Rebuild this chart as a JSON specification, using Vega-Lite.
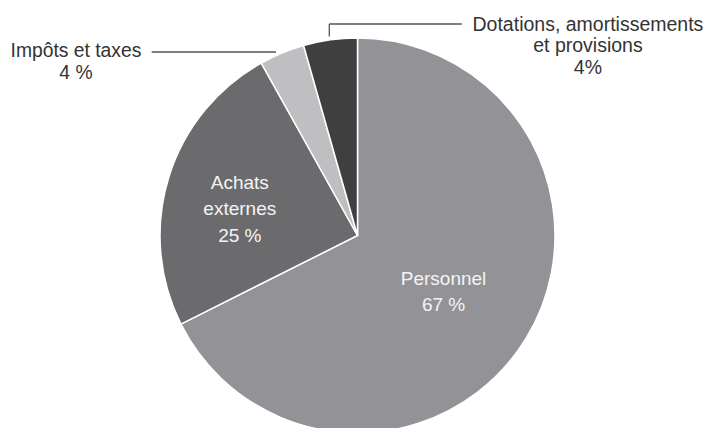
{
  "$schema": "https://vega.github.io/schema/vega-lite/v6.json",
  "width": 697,
  "height": 383,
  "autosize": "none",
  "padding": {"left": 9, "right": 0, "top": 44, "bottom": 1},
  "background": "white",
  "config": {"view": {"stroke": null}, "font": "Liberation Sans"},
  "datasets": {
    "parts": [
      {"poste": "Personnel", "part": 67.6, "ordre": 1, "etiquette": "Personnel\n67 %"},
      {"poste": "Achats externes", "part": 24.3, "ordre": 2, "etiquette": "Achats\nexternes\n25 %"},
      {"poste": "Impôts et taxes", "part": 3.7, "ordre": 3, "etiquette": "Impôts et taxes\n4 %"},
      {"poste": "Dotations, amortissements et provisions", "part": 4.4, "ordre": 4, "etiquette": "Dotations, amortissements\net provisions\n4%"}
    ],
    "traits": [
      {"poste": "Impôts et taxes", "x": 151.7, "y": 52, "x2": 276, "y2": 52},
      {"poste": "Dotations, amortissements et provisions", "x": 329.3, "y": 24, "x2": 461.7, "y2": 24},
      {"poste": "Dotations, amortissements et provisions", "x": 329.3, "y": 24, "x2": 329.3, "y2": 36.5}
    ]
  },
  "layer": [
    {
      "data": {"name": "parts"},
      "mark": {"type": "arc", "outerRadius": 197.5, "stroke": "white", "strokeWidth": 1.5},
      "encoding": {
        "theta": {"field": "part", "type": "quantitative", "stack": true},
        "order": {"field": "ordre", "type": "quantitative"},
        "color": {
          "field": "poste",
          "type": "nominal",
          "scale": {
            "domain": ["Personnel", "Achats externes", "Impôts et taxes", "Dotations, amortissements et provisions"],
            "range": ["#939397", "#6b6b6e", "#bfbfc1", "#3f3f40"]
          },
          "legend": null
        }
      }
    },
    {
      "data": {"name": "parts"},
      "mark": {"type": "text", "radius": 107, "dx": -5, "dy": -13, "lineBreak": "\n", "lineHeight": 26, "fontSize": 19, "fill": "#f4f4f4", "align": "center", "baseline": "middle"},
      "encoding": {
        "theta": {"field": "part", "type": "quantitative", "stack": true},
        "order": {"field": "ordre", "type": "quantitative"},
        "text": {"condition": {"test": "datum.poste === 'Personnel'", "field": "etiquette", "type": "nominal"}, "value": ""}
      }
    },
    {
      "data": {"name": "parts"},
      "mark": {"type": "text", "radius": 120, "dx": -3, "dy": -17.7, "lineBreak": "\n", "lineHeight": 26.7, "fontSize": 19, "fill": "#f4f4f4", "align": "center", "baseline": "middle"},
      "encoding": {
        "theta": {"field": "part", "type": "quantitative", "stack": true},
        "order": {"field": "ordre", "type": "quantitative"},
        "text": {"condition": {"test": "datum.poste === 'Achats externes'", "field": "etiquette", "type": "nominal"}, "value": ""}
      }
    },
    {
      "data": {"name": "parts"},
      "mark": {"type": "text", "radius": 200, "dx": -205, "dy": 0.3, "lineBreak": "\n", "lineHeight": 22, "fontSize": 19.3, "fill": "#333333", "align": "center", "baseline": "middle"},
      "encoding": {
        "theta": {"field": "part", "type": "quantitative", "stack": true},
        "order": {"field": "ordre", "type": "quantitative"},
        "text": {"condition": {"test": "datum.poste === 'Impôts et taxes'", "field": "etiquette", "type": "nominal"}, "value": ""}
      }
    },
    {
      "data": {"name": "parts"},
      "mark": {"type": "text", "radius": 200, "dx": 258, "dy": -12.9, "lineBreak": "\n", "lineHeight": 21.7, "fontSize": 19.5, "fill": "#333333", "align": "center", "baseline": "middle"},
      "encoding": {
        "theta": {"field": "part", "type": "quantitative", "stack": true},
        "order": {"field": "ordre", "type": "quantitative"},
        "text": {"condition": {"test": "datum.poste === 'Dotations, amortissements et provisions'", "field": "etiquette", "type": "nominal"}, "value": ""}
      }
    },
    {
      "data": {"name": "traits"},
      "mark": {"type": "rule", "stroke": "#555555", "strokeWidth": 1.3},
      "encoding": {
        "x": {"field": "x", "type": "quantitative", "scale": {"domain": [9, 706], "nice": false, "zero": false}, "axis": null},
        "x2": {"field": "x2"},
        "y": {"field": "y", "type": "quantitative", "scale": {"domain": [44, 427], "nice": false, "zero": false, "reverse": true}, "axis": null},
        "y2": {"field": "y2"}
      }
    }
  ]
}
